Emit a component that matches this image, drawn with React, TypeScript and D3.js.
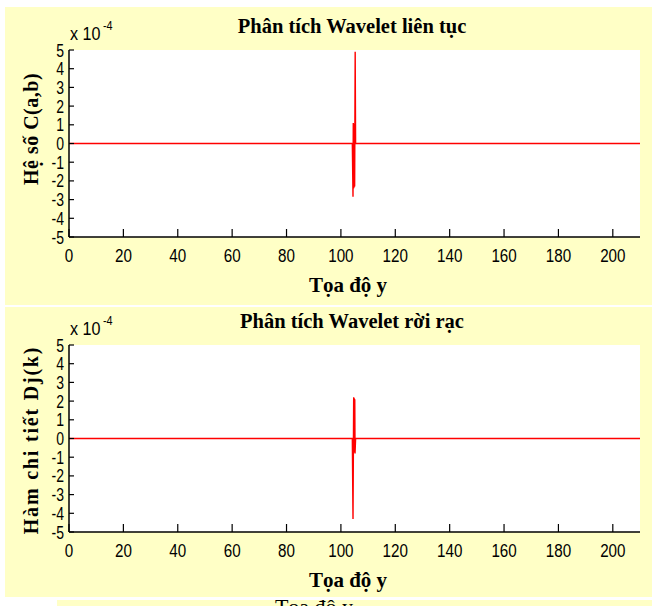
import React from "react";
import * as d3 from "d3";

const xTicks = [0, 20, 40, 60, 80, 100, 120, 140, 160, 180, 200];
const yTicks = [5, 4, 3, 2, 1, 0, -1, -2, -3, -4, -5];

// Continuous wavelet coefficients (x 1e-4)
const topX = [0, 104.2, 104.45, 104.55, 104.65, 104.75, 104.85, 104.95, 105.05, 105.25, 105.4, 105.6, 210];
const topY = [0, 0, -2.85, 1.1, -2.4, 1.05, -2.35, 1.0, -2.3, 4.9, 0, 0, 0];

// Discrete wavelet detail (x 1e-4)
const botX = [0, 104.2, 104.45, 104.7, 104.8, 104.9, 105.0, 105.1, 105.2, 105.4, 210];
const botY = [0, 0, -4.3, 2.2, -0.75, 2.15, -0.7, 2.1, -0.8, 0, 0];

const titles = ["Phân tích Wavelet liên tục", "Phân tích Wavelet rời rạc"];
const yLabels = ["Hệ số C(a,b)", "Hàm chi tiết Dj(k)"];
const xLabel = "Tọa độ y";

const YELLOW = "#FFFFC6";
const NUM_FONT = "'Liberation Sans', Arial, sans-serif";
const SERIF = "'Liberation Serif', 'Times New Roman', serif";

function Num({ x, y, anchor, size, sx = 0.8, children }: any) {
  return (
    <text
      transform={`translate(${x},${y}) scale(${sx},1)`}
      textAnchor={anchor}
      fontFamily={NUM_FONT}
      fontSize={size}
    >
      {children}
    </text>
  );
}

function Panel({ top, bottom, xs, ys, title, yLabel, yLabelCenter, yLabelSpacing }: any) {
  const x = d3.scaleLinear().domain([0, 210]).range([69, 640]);
  const y = d3.scaleLinear().domain([-5, 5]).range([bottom, top]);
  const data = xs.map((v: number, i: number) => [v, ys[i]]);
  const line = d3
    .line<number[]>()
    .x((d) => x(d[0]))
    .y((d) => y(d[1]));
  return (
    <g>
      <rect x={x(0)} y={top} width={x(210) - x(0)} height={bottom - top} fill="#fff" />
      <path d={line(data) || ""} fill="none" stroke="#FF0000" strokeWidth={1.4} />
      <line x1={x(0)} x2={x(210)} y1={bottom} y2={bottom} stroke="#000" strokeWidth={1.5} />
      <line x1={x(0)} x2={x(0)} y1={top} y2={bottom} stroke="#000" strokeWidth={1.5} />
      {xTicks.map((t) => (
        <g key={"x" + t}>
          <line x1={x(t)} x2={x(t)} y1={bottom} y2={bottom - 8} stroke="#000" strokeWidth={1.2} />
          <Num x={x(t)} y={bottom + 25} anchor="middle" size={19}>
            {t}
          </Num>
        </g>
      ))}
      {yTicks.map((t) => (
        <g key={"y" + t}>
          <line x1={x(0)} x2={x(0) + 5} y1={y(t)} y2={y(t)} stroke="#000" strokeWidth={1.2} />
          <Num x={64} y={y(t) + 6.5} anchor="end" size={17.5}>
            {t}
          </Num>
        </g>
      ))}
      <Num x={70} y={top - 10} anchor="start" size={19} sx={0.85}>
        x 10
      </Num>
      <Num x={103} y={top - 20} anchor="start" size={12} sx={0.9}>
        -4
      </Num>
      <text x={352} y={top - 17} textAnchor="middle" fontFamily={SERIF} fontWeight="bold" fontSize={20.5}>
        {title}
      </text>
      <text x={348} y={bottom + 55} textAnchor="middle" fontFamily={SERIF} fontWeight="bold" fontSize={21}>
        {xLabel}
      </text>
      <text
        transform={`translate(38,${yLabelCenter}) rotate(-90)`}
        textAnchor="middle"
        fontFamily={SERIF}
        fontWeight="bold"
        fontSize={20}
        letterSpacing={yLabelSpacing}
      >
        {yLabel}
      </text>
    </g>
  );
}

export default function App() {
  return (
    <div style={{ position: "absolute", left: 0, top: 0 }}>
      <svg width={652} height={606} style={{ display: "block" }}>
        <rect x={0} y={0} width={652} height={606} fill="#fff" />
        <rect x={5} y={7} width={647} height={298} fill={YELLOW} />
        <rect x={5} y={307} width={647} height={290} fill={YELLOW} />
        <rect x={57} y={600} width={595} height={6} fill={YELLOW} />
        <Panel top={50} bottom={237} xs={topX} ys={topY} title={titles[0]} yLabel={yLabels[0]} yLabelCenter={129} yLabelSpacing={0.5} />
        <Panel top={345} bottom={532} xs={botX} ys={botY} title={titles[1]} yLabel={yLabels[1]} yLabelCenter={440} yLabelSpacing={1.8} />
        <clipPath id="bclip">
          <rect x={57} y={598} width={595} height={8} />
        </clipPath>
        <text
          x={314}
          y={614}
          textAnchor="middle"
          fontFamily={SERIF}
          fontSize={22}
          clipPath="url(#bclip)"
        >
          Tọa độ y
        </text>
      </svg>
    </div>
  );
}
